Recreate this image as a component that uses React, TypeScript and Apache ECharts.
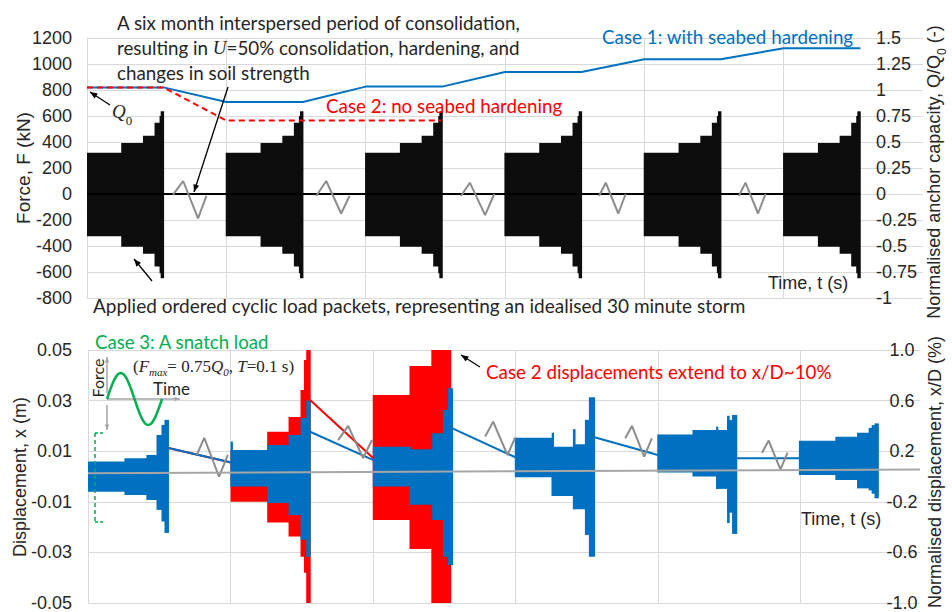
import React, { useEffect, useRef } from "react";
import * as echarts from "echarts";

// ---------------- DATA ----------------
// Top panel: applied force (kN), time in "packet interval" units
const loadPacketSteps = [
  // [t0, t1, low, high] relative to packet start
  [0, 0.25, -325, 318],
  [0.25, 0.406, -405, 392],
  [0.406, 0.489, -460, 448],
  [0.489, 0.525, -558, 548],
  [0.525, 0.533, -610, 600],
  [0.533, 0.549, -648, 636],
];
const packetStartsTop = [0, 1, 2, 3, 4, 5];
const zeroForceLine = [[0, 0], [5.549, 0]];

const case1Capacity = [
  [0, 820], [0.549, 820], [1, 708], [1.549, 708], [2, 826], [2.549, 826],
  [3, 938], [3.549, 938], [4, 1036], [4.549, 1036], [5, 1121], [5.551, 1121],
];
const case2Capacity = [[0, 820], [0.549, 820], [1, 565], [2.543, 565]];

const topZigzags = [
  [[0.618, -5], [0.69, 100], [0.797, -187], [0.857, -15]],
  [[1.645, -15], [1.717, 100], [1.824, -150], [1.884, -15]],
  [[2.684, -15], [2.748, 87], [2.857, -162], [2.923, 0]],
  [[3.675, -15], [3.723, 87], [3.813, -150], [3.866, 0]],
  [[4.678, -15], [4.726, 87], [4.816, -150], [4.869, 0]],
];

// Bottom panel: displacement (m)
const case1DispBlocks = [
  [0, 0.26, -0.006, 0.0059],
  [0.26, 0.414, -0.0073, 0.0072],
  [0.414, 0.485, -0.0093, 0.0085],
  [0.485, 0.52, -0.0132, 0.0164],
  [0.52, 0.541, -0.0178, 0.0204],
  [0.541, 0.564, -0.0223, 0.0224],
  [1.005, 1.262, -0.004, 0.0105],
  [1.005, 1.013, -0.004, 0.0138],
  [1.262, 1.412, -0.0105, 0.0125],
  [1.412, 1.496, -0.0152, 0.0164],
  [1.496, 1.536, -0.025, 0.0231],
  [1.536, 1.559, -0.0317, 0.03],
  [2.003, 2.261, -0.004, 0.0118],
  [2.261, 2.42, -0.0112, 0.0108],
  [2.42, 2.495, -0.0172, 0.0171],
  [2.495, 2.53, -0.0317, 0.0263],
  [2.53, 2.558, -0.035, 0.0349],
  [3.0, 3.259, -0.0003, 0.0153],
  [3.259, 3.408, -0.0077, 0.0118],
  [3.259, 3.267, -0.0077, 0.0173],
  [3.408, 3.492, -0.0129, 0.0127],
  [3.408, 3.418, -0.0129, 0.0187],
  [3.492, 3.52, -0.0231, 0.0224],
  [3.52, 3.555, -0.0317, 0.0313],
  [4.0, 4.247, 0.0016, 0.0166],
  [4.247, 4.413, 0, 0.0184],
  [4.413, 4.49, -0.0049, 0.0184],
  [4.413, 4.42, -0.0049, 0.0197],
  [4.49, 4.525, -0.0143, 0.0223],
  [4.49, 4.5, -0.0184, 0.024],
  [4.525, 4.553, -0.0227, 0.0243],
  [4.994, 5.25, 0.0006, 0.0141],
  [5.25, 5.402, -0.0014, 0.0157],
  [5.402, 5.484, -0.0047, 0.0173],
  [5.484, 5.505, -0.0055, 0.0192],
  [5.505, 5.525, -0.0068, 0.0203],
  [5.525, 5.547, -0.0086, 0.021],
];
const case2DispBlocks = [
  [1.005, 1.262, -0.01, 0.0105],
  [1.262, 1.412, -0.0182, 0.0177],
  [1.412, 1.496, -0.0237, 0.0235],
  [1.496, 1.52, -0.0317, 0.0342],
  [1.52, 1.536, -0.038, 0.046],
  [1.536, 1.559, -0.05, 0.05],
  [2.003, 2.261, -0.0172, 0.0322],
  [2.261, 2.414, -0.0287, 0.0437],
  [2.414, 2.545, -0.05, 0.05],
];
const case1Links = [
  [[0.564, 0.0113], [1.005, 0.0055]],
  [[1.559, 0.0177], [2.003, 0.0065]],
  [[2.558, 0.019], [3.0, 0.0076]],
  [[3.555, 0.0155], [4.0, 0.0085]],
  [[4.553, 0.0072], [4.994, 0.0072]],
];
const case2Links = [
  [[0.564, 0.0113], [1.005, 0.0055]],
  [[1.559, 0.0302], [2.003, 0.0072]],
];
const bottomZigzags = [
  [[0.763, 0.0085], [0.816, 0.0153], [0.92, -0.0001], [0.981, 0.0085]],
  [[1.756, 0.0144], [1.826, 0.02], [1.931, 0.0073], [1.994, 0.0144]],
  [[2.788, 0.0158], [2.844, 0.0217], [2.944, 0.0085], [2.999, 0.0155]],
  [[3.771, 0.0151], [3.818, 0.02], [3.904, 0.0079], [3.958, 0.0151]],
  [[4.731, 0.0094], [4.778, 0.0142], [4.86, 0.0028], [4.911, 0.0094]],
];
const dispBaseline = [[0, 0.0013], [5.84, 0.0028]];

// ---------------- STYLE ----------------
const BLUE = "#0070C0";
const RED = "#FF0000";
const GREEN = "#00B050";
const GRID = "#d9d9d9";
const TXT = "#262626";
const F_AX = "'Liberation Sans', Arial, sans-serif";
const F_AN = "Lato, 'Open Sans', sans-serif";
const F_MATH = "'Liberation Serif', 'DejaVu Serif', serif";

function rectItem(color: string) {
  return (params: any, api: any) => {
    const p0 = api.coord([api.value(0), api.value(3)]);
    const p1 = api.coord([api.value(1), api.value(2)]);
    const rect = {
      x: p0[0] - 0.6,
      y: p0[1],
      width: Math.max(1.2, p1[0] - p0[0] + 1.2),
      height: p1[1] - p0[1],
    };
    const cs = params.coordSys;
    const c = echarts.graphic.clipRectByRect(rect, { x: cs.x, y: cs.y, width: cs.width, height: cs.height });
    if (!c) return null;
    return { type: "rect", shape: c, style: { fill: color } };
  };
}

function arrow(x1: number, y1: number, x2: number, y2: number, color = "#000", w = 1.3, head = 8) {
  const a = Math.atan2(y2 - y1, x2 - x1);
  const p1 = [x2 - head * Math.cos(a - 0.38), y2 - head * Math.sin(a - 0.38)];
  const p2 = [x2 - head * Math.cos(a + 0.38), y2 - head * Math.sin(a + 0.38)];
  return [
    { type: "line", z: 100, shape: { x1, y1, x2, y2 }, style: { stroke: color, lineWidth: w } },
    { type: "polygon", z: 100, shape: { points: [[x2, y2], p1, p2] }, style: { fill: color } },
  ];
}

function txt(x: number, y: number, text: string, opts: any = {}) {
  return {
    type: "text",
    z: 100,
    x,
    y,
    rotation: opts.rotation || 0,
    style: {
      text,
      fill: opts.fill || TXT,
      fontSize: opts.fontSize || 18.8,
      fontFamily: opts.fontFamily || F_AN,
      fontStyle: opts.fontStyle || "normal",
      align: opts.align || "left",
      verticalAlign: "middle",
      rich: opts.rich,
    },
  };
}

export default function App() {
  const ref = useRef<HTMLDivElement>(null);
  useEffect(() => {
    if (!ref.current) return;
    const chart = echarts.init(ref.current, undefined, { renderer: "svg" });

    const topBlocks: number[][] = [];
    packetStartsTop.forEach((s) =>
      loadPacketSteps.forEach((st) => topBlocks.push([s + st[0], s + st[1], st[2], st[3]]))
    );

    const lineS = (data: any, xi: number, yi: number, color: string, width: number, z: number, type: any = "solid") => ({
      type: "line",
      xAxisIndex: xi,
      yAxisIndex: yi,
      data,
      symbol: "none",
      z,
      silent: true,
      lineStyle: { color, width, type },
    });

    const series: any[] = [
      {
        type: "custom",
        xAxisIndex: 0,
        yAxisIndex: 0,
        data: topBlocks,
        encode: { x: [0, 1], y: [2, 3] },
        renderItem: rectItem("#0d0d0d"),
        z: 2,
        silent: true,
      },
      lineS(zeroForceLine, 0, 0, "#000", 2, 3),
      ...topZigzags.map((zz) => lineS(zz, 0, 0, "#8c8c8c", 2, 3)),
      lineS(case1Capacity, 0, 0, BLUE, 2, 4),
      lineS(case2Capacity, 0, 0, RED, 2, 5, [6, 4]),
      {
        type: "custom",
        xAxisIndex: 1,
        yAxisIndex: 2,
        data: case2DispBlocks,
        encode: { x: [0, 1], y: [2, 3] },
        renderItem: rectItem(RED),
        z: 2,
        silent: true,
      },
      {
        type: "custom",
        xAxisIndex: 1,
        yAxisIndex: 2,
        data: case1DispBlocks,
        encode: { x: [0, 1], y: [2, 3] },
        renderItem: rectItem(BLUE),
        z: 3,
        silent: true,
      },
      ...case2Links.map((l) => lineS(l, 1, 2, RED, 2, 4)),
      ...case1Links.map((l) => lineS(l, 1, 2, BLUE, 2, 5)),
      ...bottomZigzags.map((zz) => lineS(zz, 1, 2, "#8c8c8c", 2, 6)),
      lineS(dispBaseline, 1, 2, "#a6a6a6", 2, 7),
    ];

    const axisLabel = { fontSize: 18, color: TXT, fontFamily: F_AX };

    // snatch-load icon (decorative)
    const sinePts: number[][] = [];
    for (let i = 0; i <= 40; i++) {
      const x = 107 + (55 * i) / 40;
      sinePts.push([x, 399 - 26 * Math.sin((2 * Math.PI * i) / 40)]);
    }

    const subRich = {
      s: { fontSize: 12, fontFamily: F_AX, verticalAlign: "bottom", fill: TXT, padding: [0, 0, -5, 0] },
      b: { fontSize: 18, fontFamily: F_AX, fill: TXT },
    };

    const graphic: any[] = [
      txt(117, 22, "A six month interspersed period of consolidation,", { fontSize: 18.8 }),
      txt(117, 47, "resulting in {i|U}=50% consolidation, hardening, and", {
        rich: { i: { fontFamily: F_MATH, fontStyle: "italic", fontSize: 19, fill: TXT } },
      }),
      txt(117, 72, "changes in soil strength"),
      txt(602, 36, "Case 1: with seabed hardening", { fill: BLUE }),
      txt(326, 105, "Case 2: no seabed hardening", { fill: RED }),
      txt(93, 305, "Applied ordered cyclic load packets, representing an idealised 30 minute storm", { fontSize: 19 }),
      txt(768, 283, "Time, t (s)", { fontFamily: F_AX, fontSize: 18 }),
      txt(112, 111, "{i|Q}{s|0}", {
        rich: {
          i: { fontFamily: F_MATH, fontStyle: "italic", fontSize: 19, fill: TXT },
          s: { fontFamily: F_MATH, fontSize: 13, fill: TXT, verticalAlign: "bottom", padding: [0, 0, -6, 0] },
        },
      }),
      ...arrow(110, 105, 90, 92),
      ...arrow(228, 87, 194, 192),
      ...arrow(152, 281, 134, 259),
      // axis names
      txt(23, 168, "Force, F (kN)", { fontFamily: F_AX, fontSize: 19, rotation: Math.PI / 2, align: "center" }),
      txt(934, 172, "{b|Normalised anchor capacity, Q/Q}{s|0}{b| (-)}", {
        fontFamily: F_AX,
        fontSize: 18,
        rotation: Math.PI / 2,
        align: "center",
        rich: subRich,
      }),
      txt(20, 477, "Displacement, x (m)", { fontFamily: F_AX, fontSize: 18, rotation: Math.PI / 2, align: "center" }),
      txt(935, 472, "Normalised displacement, x/D (%)", { fontFamily: F_AX, fontSize: 18, rotation: Math.PI / 2, align: "center" }),
      // bottom annotations
      txt(95, 342, "Case 3: A snatch load", { fill: GREEN, fontSize: 18.6 }),
      txt(133, 366, "({i|F}{s|max}= 0.75{i|Q}{s|0}, {i|T}=0.1 s)", {
        fontFamily: F_MATH,
        fontSize: 17,
        rich: {
          i: { fontFamily: F_MATH, fontStyle: "italic", fontSize: 17, fill: TXT },
          s: { fontFamily: F_MATH, fontStyle: "italic", fontSize: 11, fill: TXT, verticalAlign: "bottom", padding: [0, 0, -3, 0] },
        },
      }),
      txt(153, 388, "Time", { fontSize: 17 }),
      txt(97, 378, "Force", { fontSize: 16, rotation: Math.PI / 2, align: "center" }),
      ...arrow(107, 393, 107, 357, "#a6a6a6", 1.5, 6),
      ...arrow(107, 405, 107, 430, "#a6a6a6", 1.5, 6),
      ...arrow(107, 399, 180, 399, "#a6a6a6", 1.5, 6),
      { type: "polyline", z: 101, shape: { points: sinePts }, style: { stroke: GREEN, lineWidth: 2.5, fill: null } },
      { type: "line", z: 100, shape: { x1: 95, y1: 433, x2: 95, y2: 522 }, style: { stroke: GREEN, lineWidth: 1.5, lineDash: [4, 3] } },
      { type: "line", z: 100, shape: { x1: 95, y1: 433, x2: 104, y2: 433 }, style: { stroke: GREEN, lineWidth: 1.5, lineDash: [3, 2] } },
      { type: "line", z: 100, shape: { x1: 95, y1: 522, x2: 104, y2: 522 }, style: { stroke: GREEN, lineWidth: 1.5, lineDash: [3, 2] } },
      txt(486, 371, "Case 2 displacements extend to x/D~10%", { fill: RED }),
      ...arrow(480, 367, 461, 355),
      txt(801, 519, "Time, t (s)", { fontFamily: F_AX, fontSize: 18 }),
    ];

    chart.setOption({
      animation: false,
      backgroundColor: "#fff",
      grid: [
        { left: 87, top: 38, width: 836, height: 260, containLabel: false },
        { left: 88, top: 350, width: 832, height: 253, containLabel: false },
      ],
      xAxis: [0, 1].map((g) => ({
        type: "value",
        gridIndex: g,
        min: 0,
        max: g === 0 ? 6 : 5.84,
        interval: 1,
        axisLabel: { show: false },
        axisTick: { show: false },
        axisLine: { show: false },
        splitLine: { show: true, showMaxLine: false, lineStyle: { color: GRID, width: 1 } },
      })),
      yAxis: [
        {
          type: "value",
          gridIndex: 0,
          min: -800,
          max: 1200,
          interval: 200,
          position: "left",
          axisLabel: { ...axisLabel, margin: 15, formatter: (v: number) => String(v) },
          axisTick: { show: false },
          axisLine: { show: true, lineStyle: { color: GRID } },
          splitLine: { show: true, lineStyle: { color: GRID, width: 1 } },
        },
        {
          type: "value",
          gridIndex: 0,
          min: -1,
          max: 1.5,
          interval: 0.25,
          position: "right",
          offset: -48,
          axisLabel: { ...axisLabel, margin: 1, align: "left", formatter: (v: number) => String(v) },
          axisTick: { show: false },
          axisLine: { show: false },
          splitLine: { show: false },
        },
        {
          type: "value",
          gridIndex: 1,
          min: -0.05,
          max: 0.05,
          interval: 0.02,
          position: "left",
          axisLabel: { ...axisLabel, margin: 16, formatter: (v: number) => v.toFixed(2) },
          axisTick: { show: false },
          axisLine: { show: true, lineStyle: { color: GRID } },
          splitLine: { show: true, lineStyle: { color: GRID, width: 1 } },
        },
        {
          type: "value",
          gridIndex: 1,
          min: -1,
          max: 1,
          interval: 0.4,
          position: "right",
          offset: -33,
          axisLabel: { ...axisLabel, margin: 15, align: "center", formatter: (v: number) => v.toFixed(1) },
          axisTick: { show: false },
          axisLine: { show: false },
          splitLine: { show: false },
        },
      ],
      series,
      graphic,
    });
    return () => chart.dispose();
  }, []);
  return (
    <div
      ref={ref}
      style={{ position: "absolute", left: 0, top: 0, width: 952, height: 612, background: "#fff" }}
    />
  );
}
